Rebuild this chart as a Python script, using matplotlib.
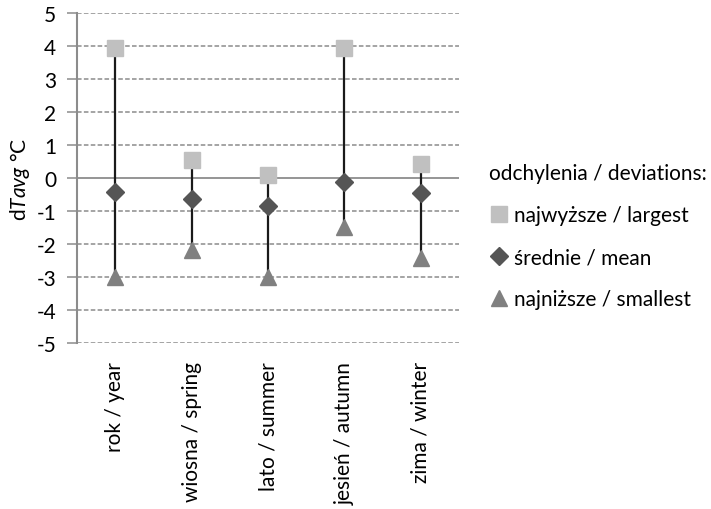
import matplotlib
matplotlib.use("Agg")
import matplotlib.pyplot as plt
from matplotlib.lines import Line2D

plt.rcParams['font.family'] = ['Lato', 'DejaVu Sans']
plt.rcParams['mathtext.fontset'] = 'custom'
plt.rcParams['mathtext.rm'] = 'Lato'
plt.rcParams['mathtext.it'] = 'Lato:italic'

categories = ["rok / year", "wiosna / spring", "lato / summer", "jesień / autumn", "zima / winter"]
largest = [3.95, 0.55, 0.08, 3.95, 0.42]
mean = [-0.41, -0.63, -0.85, -0.13, -0.45]
smallest = [-2.99, -2.17, -3.0, -1.49, -2.43]
yticks = [5, 4, 3, 2, 1, 0, -1, -2, -3, -4, -5]
legend_title = "odchylenia / deviations:"
legend_labels = ["najwyższe / largest", "średnie / mean", "najniższe / smallest"]

fig = plt.figure(figsize=(7.11, 5.10), dpi=100)
ax = fig.add_axes([0.1083, 0.3255, 0.5373, 0.647])

x = list(range(len(categories)))
ax.set_ylim(-5, 5)
ax.set_xlim(-0.5, len(categories) - 0.5)
for yv in yticks:
    if yv == 0:
        ax.axhline(0, color='#8c8c8c', lw=1.3, zorder=1)
    else:
        ax.axhline(yv, color='#8c8c8c', lw=1.1, ls=(0, (3, 1.5)), zorder=1)

ax.vlines(x, smallest, largest, color='#1a1a1a', lw=1.6, zorder=2)
ax.plot(x, largest, 's', color='#c0c0c0', ms=11, zorder=3, label=legend_labels[0])
ax.plot(x, mean, 'D', color='#555555', ms=9, zorder=3, label=legend_labels[1])
ax.plot(x, smallest, '^', color='#808080', ms=12, zorder=3, label=legend_labels[2])

ax.set_yticks(yticks)
ax.set_yticklabels([str(v) for v in yticks], fontsize=15)
ax.set_xticks(x)
ax.set_xticklabels(categories, rotation=90, fontsize=15)
ax.tick_params(axis='y', length=7, color='#8c8c8c', width=1.1, pad=8)
ax.tick_params(axis='x', length=0, pad=13)
for s in ['top', 'right', 'bottom']:
    ax.spines[s].set_visible(False)
ax.spines['left'].set_color('#8c8c8c')
ax.spines['left'].set_linewidth(1.5)
ax.set_ylabel("d$\\mathit{Tavg}$ °C", fontsize=15, labelpad=3)

handles = [
    Line2D([], [], marker='s', ls='none', color='#c0c0c0', ms=11),
    Line2D([], [], marker='D', ls='none', color='#555555', ms=9),
    Line2D([], [], marker='^', ls='none', color='#808080', ms=12),
]
leg = fig.legend(handles, legend_labels, title=legend_title, loc='upper left',
                 bbox_to_anchor=(0.662, 0.715), frameon=False, fontsize=15,
                 title_fontsize=15, handlelength=0.9, handletextpad=0.3,
                 labelspacing=1.06, alignment='left')

fig.savefig("out.png", dpi=100)
